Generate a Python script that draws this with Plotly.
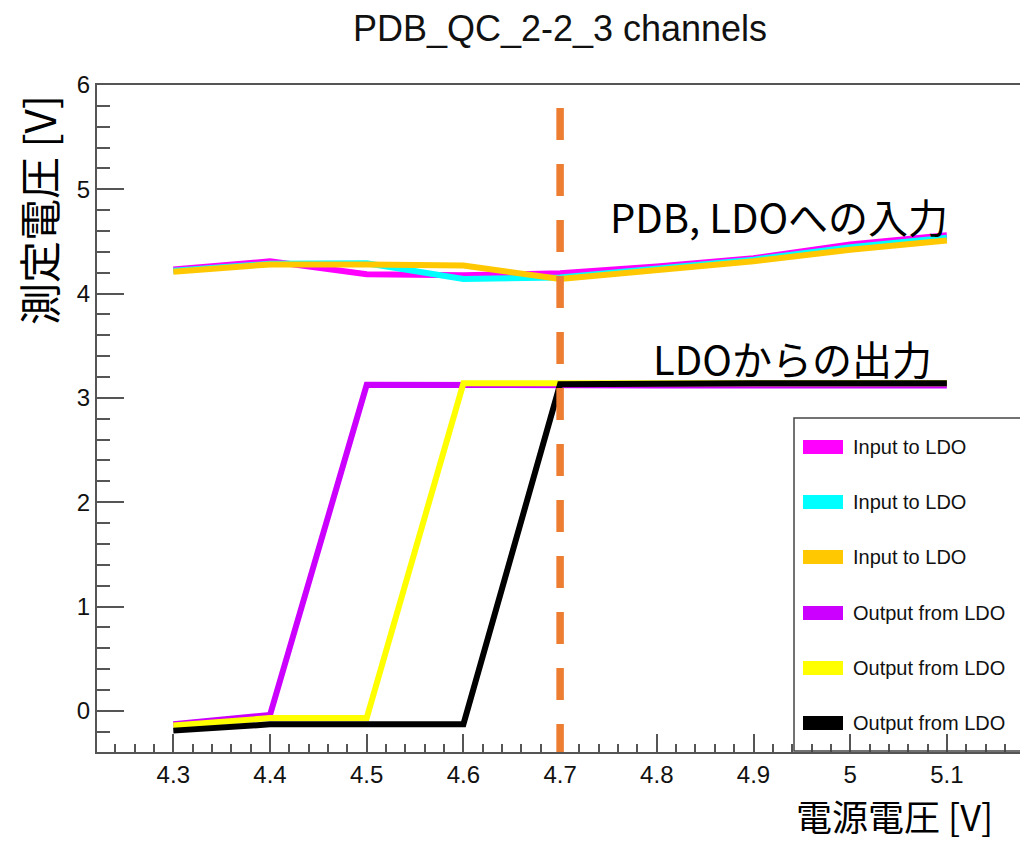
import plotly.graph_objects as go

# ---------------- data ----------------
supply_v = [4.3, 4.4, 4.5, 4.6, 4.7, 4.8, 4.9, 5.0, 5.1]

input_ch1 = [4.23, 4.31, 4.185, 4.175, 4.195, 4.26, 4.34, 4.47, 4.56]
input_ch2 = [4.22, 4.285, 4.29, 4.14, 4.155, 4.245, 4.325, 4.445, 4.535]
input_ch3 = [4.21, 4.28, 4.28, 4.27, 4.14, 4.23, 4.31, 4.42, 4.51]

output_ch1 = [-0.13, -0.04, 3.125, 3.12, 3.12, 3.12, 3.12, 3.12, 3.12]
output_ch2 = [-0.14, -0.07, -0.07, 3.14, 3.14, 3.14, 3.14, 3.14, 3.14]
output_ch3 = [-0.19, -0.13, -0.13, -0.13, 3.13, 3.14, 3.14, 3.14, 3.14]

series_names = ["Input to LDO", "Input to LDO", "Input to LDO",
                "Output from LDO", "Output from LDO", "Output from LDO"]
series_colors = ["#FF00FF", "#00FFFF", "#FFC800", "#CC00FF", "#FFFF00", "#000000"]
series_values = [input_ch1, input_ch2, input_ch3, output_ch1, output_ch2, output_ch3]

x_tick_vals = [4.3, 4.4, 4.5, 4.6, 4.7, 4.8, 4.9, 5.0, 5.1]
x_tick_text = ["4.3", "4.4", "4.5", "4.6", "4.7", "4.8", "4.9", "5", "5.1"]
y_tick_vals = [0, 1, 2, 3, 4, 5, 6]

threshold_v = 4.7

title_text = "PDB_QC_2-2_3 channels"
x_title = "電源電圧 [V]"
y_title = "測定電圧 [V]"
label_input = "PDB, LDOへの入力"
label_output = "LDOからの出力"

# ---------------- layout geometry ----------------
W, H = 1020, 842
ML, MR, MT, MB = 97, 0, 85, 90
PW, PH = W - ML - MR, H - MT - MB
X_RANGE = [4.2211, 5.1756]
Y_RANGE = [-0.395, 6.0]

def px_x(px):
    return (px - ML) / PW

def px_y(py):
    return (H - MB - py) / PH

LATIN = "Liberation Sans, Arial, Helvetica, sans-serif"
CJK = "Noto Sans CJK JP, Noto Sans, sans-serif"
AXC = "#555555"

fig = go.Figure()
for name, color, vals in zip(series_names, series_colors, series_values):
    fig.add_trace(go.Scatter(
        x=supply_v, y=vals, mode="lines", name=name, showlegend=False,
        line=dict(color=color, width=6),
    ))

# dashed threshold line
fig.add_shape(type="line", xref="x", yref="y",
              x0=threshold_v, x1=threshold_v, y0=5.78, y1=Y_RANGE[0],
              line=dict(color="#ED7D31", width=7.5, dash="32px,24px"))

# custom legend
leg_left, leg_top, leg_bottom = 794, 418, 751
fig.add_shape(type="path", xref="paper", yref="paper",
              path=f"M 1.05,{px_y(leg_top)} L {px_x(leg_left)},{px_y(leg_top)} "
                   f"L {px_x(leg_left)},{px_y(leg_bottom)} L 1.05,{px_y(leg_bottom)}",
              line=dict(color="#444444", width=1.5))
row_centers = [447, 502, 557, 613, 668, 723]
for name, color, yc in zip(series_names, series_colors, row_centers):
    fig.add_shape(type="rect", xref="paper", yref="paper",
                  x0=px_x(803), x1=px_x(843), y0=px_y(yc - 7), y1=px_y(yc + 7),
                  fillcolor=color, line=dict(width=0))
    fig.add_annotation(xref="paper", yref="paper", x=px_x(851), y=px_y(yc),
                       text=name, showarrow=False, xanchor="left", yanchor="middle",
                       font=dict(family=LATIN, size=20, color="#111111"))

# text labels in plot
fig.add_annotation(xref="paper", yref="paper", x=px_x(950), y=px_y(216),
                   text=label_input, showarrow=False, xanchor="right", yanchor="middle",
                   font=dict(family=CJK, size=40, color="#000000"))
fig.add_annotation(xref="paper", yref="paper", x=px_x(934), y=px_y(358),
                   text=label_output, showarrow=False, xanchor="right", yanchor="middle",
                   font=dict(family=CJK, size=40, color="#000000"))

# axis titles
fig.add_annotation(xref="paper", yref="paper", x=px_x(995), y=px_y(815),
                   text=x_title, showarrow=False, xanchor="right", yanchor="middle",
                   font=dict(family=CJK, size=36, color="#000000"))
fig.add_annotation(xref="paper", yref="paper", x=px_x(38), y=px_y(210),
                   text=y_title, showarrow=False, xanchor="center", yanchor="middle",
                   textangle=-90,
                   font=dict(family=CJK, size=42, color="#000000"))

fig.update_layout(
    width=W, height=H,
    margin=dict(l=ML, r=MR, t=MT, b=MB),
    paper_bgcolor="white", plot_bgcolor="white",
    showlegend=False,
    title=dict(text=title_text, x=560 / W, xanchor="center", xref="container",
               y=1 - 28 / H, yanchor="middle", yref="container",
               font=dict(family=LATIN, size=36, color="#111111")),
    xaxis=dict(range=X_RANGE, showgrid=False, zeroline=False,
               showline=True, linecolor=AXC, linewidth=2, mirror=True,
               ticks="inside", ticklen=18, tickwidth=1.5, tickcolor=AXC,
               tickvals=x_tick_vals, ticktext=x_tick_text,
               tickfont=dict(family=LATIN, size=24, color="#111111"),
               minor=dict(dtick=0.02, tick0=4.3, ticks="inside", ticklen=8,
                          tickwidth=1.5, tickcolor=AXC)),
    yaxis=dict(range=Y_RANGE, showgrid=False, zeroline=False,
               showline=True, linecolor=AXC, linewidth=2, mirror=False,
               ticks="inside", ticklen=27, tickwidth=1.5, tickcolor=AXC,
               tickvals=y_tick_vals,
               tickfont=dict(family=LATIN, size=24, color="#111111"),
               minor=dict(dtick=0.2, tick0=0, ticks="inside", ticklen=13,
                          tickwidth=1.5, tickcolor=AXC)),
)

fig.write_html("out.html")
